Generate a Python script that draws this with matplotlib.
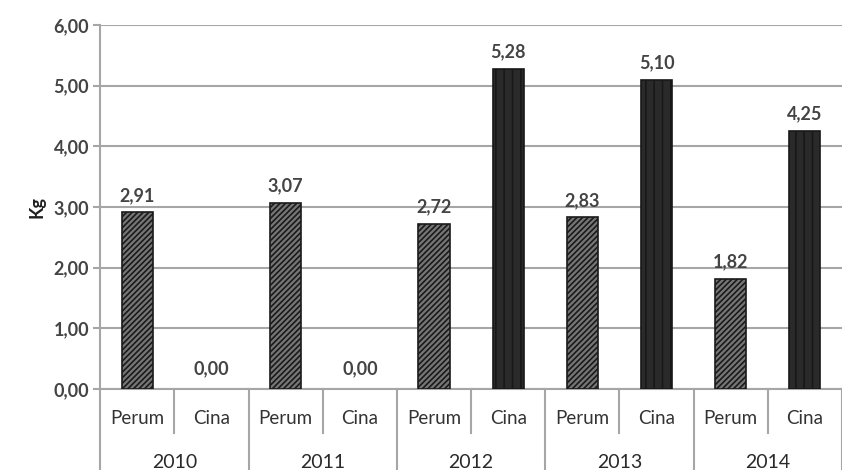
import numpy as np
import matplotlib
matplotlib.use("Agg")
import matplotlib.pyplot as plt
import matplotlib.transforms as mtransforms

years = ["2010", "2011", "2012", "2013", "2014"]
groups = ["Perum", "Cina"]
perum = [2.91, 3.07, 2.72, 2.83, 1.82]
cina = [0.00, 0.00, 5.28, 5.10, 4.25]

plt.rcParams['font.family'] = ['Lato', 'DejaVu Sans']
plt.rcParams['hatch.linewidth'] = 1.2
gridc = '#a6a6a6'
lblc = '#444444'

fig = plt.figure(figsize=(8.42, 4.70), dpi=100)
ax = fig.add_axes([0.119, 0.172, 0.881, 0.775])

n = len(years)
x_perum = np.arange(n) * 2
x_cina = x_perum + 1
w = 0.42

bp = ax.bar(x_perum, perum, width=w, color='#767676', edgecolor='#1a1a1a',
            linewidth=1.2, hatch='//////', zorder=3)
bc = ax.bar(x_cina, cina, width=w, color='#2a2a2a', edgecolor='#181818',
            linewidth=1.2, zorder=3)
for b, v in zip(bc, cina):
    b.set_hatch('||')
    if v == 0:
        b.set_visible(False)

for xs, vals in [(x_perum, perum), (x_cina, cina)]:
    for xv, v in zip(xs, vals):
        off = 0.14 if v > 0 else 0.2
        ax.text(xv, v + off, f"{v:.2f}".replace('.', ','), ha='center', va='bottom',
                fontsize=13, fontweight='bold', color=lblc)

ax.set_xlim(-0.5, 2 * n - 0.5)
ax.set_ylim(0, 6)
ax.set_yticks(np.arange(0, 7, 1))
ax.set_yticklabels([f"{t:.2f}".replace('.', ',') for t in range(7)],
                   fontsize=13, fontweight='bold', color=lblc)
ax.yaxis.grid(True, color=gridc, linewidth=1.5, zorder=0)
ax.tick_params(axis='y', length=5, color=gridc, width=1.5, pad=3)
ax.set_xticks([])
for s in ['top', 'right']:
    ax.spines[s].set_visible(False)
ax.spines['left'].set_color(gridc)
ax.spines['left'].set_linewidth(1.5)
ax.spines['bottom'].set_color(gridc)
ax.spines['bottom'].set_linewidth(1.5)
ax.set_ylabel("Kg", fontsize=13, fontweight='bold', color='#1e1e1e', labelpad=6)

# multi-level category axis
trans = mtransforms.blended_transform_factory(ax.transData, ax.transAxes)
px = 1.0 / (0.775 * 470)
for i in range(n):
    ax.text(x_perum[i], -29 * px, groups[0], transform=trans, ha='center', va='center',
            fontsize=13.5, color='#333333')
    ax.text(x_cina[i], -29 * px, groups[1], transform=trans, ha='center', va='center',
            fontsize=13.5, color='#333333')
    ax.text(x_perum[i] + 0.5, -73 * px, years[i], transform=trans, ha='center', va='center',
            fontsize=14, color='#2a2a2a')
    ax.plot([x_perum[i] + 0.5] * 2, [0, -44 * px], transform=trans, color=gridc,
            linewidth=1.5, clip_on=False)
for i in range(n + 1):
    xb = i * 2 - 0.5
    ax.plot([xb, xb], [0, -90 * px], transform=trans, color=gridc,
            linewidth=1.5, clip_on=False)

fig.savefig("out.png", dpi=100)
